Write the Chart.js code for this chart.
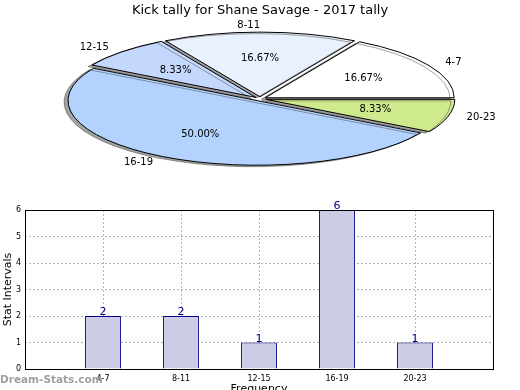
<!DOCTYPE html>
<html>
<head>
<meta charset="utf-8">
<script src="https://cdn.jsdelivr.net/npm/chart.js@4/dist/chart.umd.min.js"></script>
<style>
    html, body { margin: 0; padding: 0; background: #ffffff; overflow: hidden; }
    #wrap { position: relative; width: 520px; height: 390px; overflow: hidden; }
    canvas { position: absolute; left: 0; top: 0; }
</style>
</head>
<body>
<div id="wrap">
    <canvas id="bar" width="520" height="400"></canvas>
    <canvas id="pie" width="520" height="390"></canvas>
</div>
<script>
const TITLE = 'Kick tally for Shane Savage - 2017 tally';
const CATEGORIES = ['4-7', '8-11', '12-15', '16-19', '20-23'];
const COUNTS = [2, 2, 1, 6, 1];
const SLICE_COLORS = ['#ffffff', '#e9f1fe', '#c4d8fd', '#b3d3fe', '#cfea8c'];
const Y_MIN = 0;
const Y_MAX = 6;
const X_TITLE = 'Frequency';
const Y_TITLE = 'Stat Intervals';
const WATERMARK = 'Dream-Stats.com';

const FONT = 'DejaVu Sans';
const NAVY = '#000080';
const BAR_FILL = '#ccccE6';
const GRID = '#b4b4b4';

// pie geometry (the pie is squashed into an ellipse)
const PIE_CX = 260;
const PIE_CY = 98.8;
const PIE_R = 189;
const SQUASH = 0.342;
const EXPLODE = 6;

const total = COUNTS.reduce((a, b) => a + b, 0);

const squashPie = {
    id: 'squashPie',
    afterUpdate(chart) {
        chart.getDatasetMeta(0).data.forEach((arc) => {
            if (arc._exploded) {
                return;
            }
            const draw = arc.draw;
            arc.draw = function (ctx, area) {
                const mid = (this.startAngle + this.endAngle) / 2;
                ctx.save();
                ctx.translate(Math.cos(mid) * EXPLODE, Math.sin(mid) * EXPLODE);
                draw.call(this, ctx, area);
                ctx.restore();
            };
            arc._exploded = true;
        });
    },
    beforeDatasetsDraw(chart) {
        const ctx = chart.ctx;
        const first = chart.getDatasetMeta(0).data[0];
        ctx.save();
        ctx.translate(PIE_CX, PIE_CY);
        ctx.scale(1, -SQUASH);
        ctx.translate(-first.x, -first.y);
        ctx.shadowColor = 'rgba(70, 70, 70, 0.5)';
        ctx.shadowOffsetX = -4;
        ctx.shadowOffsetY = 1.5;
        ctx.shadowBlur = 0;
        // keep outlines 1px wide after squashing
        const stroke = ctx.stroke;
        ctx.stroke = function () {
            this.save();
            this.setTransform(1, 0, 0, 1, 0, 0);
            stroke.apply(this, arguments);
            this.restore();
        };
    },
    afterDatasetsDraw(chart) {
        const ctx = chart.ctx;
        delete ctx.stroke;
        ctx.restore();

        ctx.save();
        ctx.font = `10px "${FONT}"`;
        ctx.fillStyle = '#000000';
        ctx.textBaseline = 'middle';
        chart.getDatasetMeta(0).data.forEach((arc, i) => {
            const mid = (arc.startAngle + arc.endAngle) / 2;
            const at = (d) => {
                const r = EXPLODE + d * arc.outerRadius;
                return [PIE_CX + Math.cos(mid) * r, PIE_CY - Math.sin(mid) * r * SQUASH];
            };
            const [lx, ly] = at(1.1);
            ctx.textAlign = Math.cos(mid) > 0.01 ? 'left' : 'right';
            ctx.fillText(CATEGORIES[i], lx, ly);
            const [px, py] = at(0.6);
            ctx.textAlign = 'center';
            ctx.fillText(`${(COUNTS[i] / total * 100).toFixed(2)}%`, px, py);
        });
        ctx.restore();
    },
};

new Chart(document.getElementById('pie'), {
    type: 'pie',
    data: {
        labels: CATEGORIES,
        datasets: [{
            data: COUNTS,
            backgroundColor: SLICE_COLORS,
            borderColor: '#000000',
            borderWidth: 1,
            clip: false,
        }],
    },
    options: {
        responsive: false,
        animation: false,
        devicePixelRatio: 1,
        events: [],
        radius: PIE_R,
        rotation: 90,
        layout: { padding: 0 },
        plugins: {
            legend: { display: false },
            tooltip: { enabled: false },
            title: {
                display: true,
                text: TITLE,
                color: '#000000',
                font: { family: FONT, size: 13, weight: 'normal' },
                padding: { top: 3, bottom: 0 },
            },
        },
    },
    plugins: [squashPie],
});

const barDecor = {
    id: 'barDecor',
    afterDraw(chart) {
        const { ctx, chartArea } = chart;
        ctx.save();
        ctx.strokeStyle = '#000000';
        ctx.lineWidth = 1;
        ctx.strokeRect(chartArea.left + 0.5, chartArea.top + 0.5,
            chartArea.right - chartArea.left, chartArea.bottom - chartArea.top);

        ctx.font = `11px "${FONT}"`;
        ctx.fillStyle = NAVY;
        ctx.textAlign = 'center';
        ctx.textBaseline = 'bottom';
        const values = chart.data.datasets[0].data;
        chart.getDatasetMeta(0).data.forEach((bar, i) => {
            if (values[i] == null) {
                return;
            }
            ctx.fillText(String(values[i]), bar.x, bar.y + 2);
        });

        ctx.font = `bold 10.5px "${FONT}"`;
        ctx.fillStyle = '#a0a0a0';
        ctx.textAlign = 'left';
        ctx.textBaseline = 'middle';
        ctx.fillText(WATERMARK, 0, 380);
        ctx.restore();
    },
};

new Chart(document.getElementById('bar'), {
    type: 'bar',
    data: {
        labels: ['', ...CATEGORIES, ''],
        datasets: [{
            data: [null, ...COUNTS, null],
            backgroundColor: BAR_FILL,
            borderColor: NAVY,
            borderWidth: 1,
            barPercentage: 0.46,
            categoryPercentage: 1,
        }],
    },
    options: {
        responsive: false,
        animation: false,
        devicePixelRatio: 1,
        events: [],
        layout: { padding: { top: 210, right: 27, bottom: 4, left: 0 } },
        plugins: {
            legend: { display: false },
            tooltip: { enabled: false },
        },
        scales: {
            x: {
                offset: false,
                z: 1,
                grid: { color: GRID, lineWidth: 1, drawTicks: false, offset: false },
                border: { display: false, dash: [2, 2] },
                ticks: {
                    color: '#000000',
                    font: { family: FONT, size: 8 },
                    padding: 5,
                    maxRotation: 0,
                    autoSkip: false,
                },
                title: {
                    display: true,
                    text: X_TITLE,
                    color: '#000000',
                    font: { family: FONT, size: 11 },
                    padding: 0,
                },
                afterFit: (scale) => { scale.height = 27; },
            },
            y: {
                min: Y_MIN,
                max: Y_MAX,
                z: 1,
                grid: { color: GRID, lineWidth: 1, drawTicks: false },
                border: { display: false, dash: [2, 2] },
                ticks: {
                    stepSize: 1,
                    color: '#000000',
                    font: { family: FONT, size: 8 },
                    padding: 4,
                },
                title: {
                    display: true,
                    text: Y_TITLE,
                    color: '#000000',
                    font: { family: FONT, size: 11 },
                    padding: 2,
                },
                afterFit: (scale) => { scale.width = 25; },
            },
        },
    },
    plugins: [barDecor],
});
</script>
</body>
</html>
